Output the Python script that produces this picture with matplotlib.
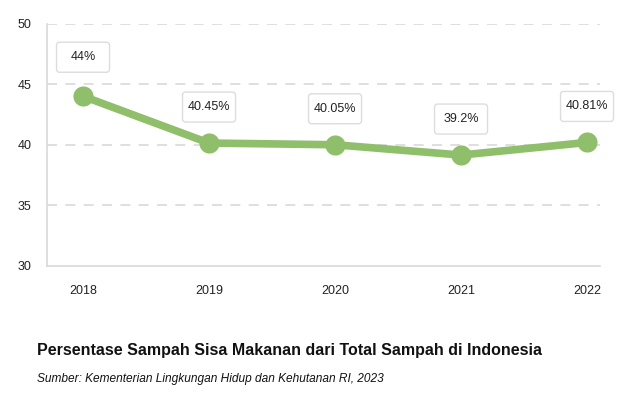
import matplotlib
matplotlib.use("Agg")
import matplotlib.pyplot as plt
from matplotlib.patches import FancyBboxPatch

years = ["2018", "2019", "2020", "2021", "2022"]
values = [44.0, 40.14, 40.0, 39.15, 40.19]
labels = ["44%", "40.45%", "40.05%", "39.2%", "40.81%"]
yticks = [30, 35, 40, 45, 50]

title = "Persentase Sampah Sisa Makanan dari Total Sampah di Indonesia"
source = "Sumber: Kementerian Lingkungan Hidup dan Kehutanan RI, 2023"

GREEN = "#8fbf6b"
GRID = "#d9d9d9"
FONT = "Liberation Sans"

fig = plt.figure(figsize=(6.28, 4.0), dpi=100)
ax = fig.add_axes([47/628, 1-266/400, (600-47)/628, (266-23.5)/400])

x = list(range(len(years)))
ax.plot(x, values, color=GREEN, lw=5.5, solid_capstyle="round", zorder=3)
ax.scatter(x, values, s=14.5**2, color=GREEN, zorder=4, linewidths=0)

ax.set_ylim(30, 50)
ax.set_xlim(-0.286, 4.103)
ax.set_yticks(yticks)
ax.set_xticks(x)
ax.set_xticklabels(years)
ax.tick_params(length=0, labelsize=9, colors="#222222")
ax.tick_params(axis="y", pad=11)
ax.tick_params(axis="x", pad=14)
for lab in ax.get_xticklabels() + ax.get_yticklabels():
    lab.set_fontfamily(FONT)

for s in ["top", "right"]:
    ax.spines[s].set_visible(False)
for s in ["left", "bottom"]:
    ax.spines[s].set_color(GRID)
    ax.spines[s].set_linewidth(1.2)

for t in yticks[1:]:
    ax.axhline(t, color=GRID, lw=1.2, dashes=(6, 5), zorder=1)

fig.canvas.draw()
W, H = 53, 30
for i, (v, lab) in enumerate(zip(values, labels)):
    px, py = ax.transData.transform((i, v))
    cy = py + (39 if i == 0 else 36)
    box = FancyBboxPatch((px - W/2, cy - H/2), W, H,
                         boxstyle="round,pad=0,rounding_size=3",
                         transform=None, facecolor="white",
                         edgecolor="#dddddd", lw=1.0, zorder=5)
    fig.patches.append(box)
    fig.text(px/628, cy/400, lab, ha="center", va="center",
             fontsize=9, family=FONT, color="#222222", zorder=6)

fig.text(37/628, 1-350/400, title, ha="left", va="center",
         fontsize=11.5, fontweight="bold", family=FONT, color="#111111")
fig.text(37/628, 1-379/400, source, ha="left", va="center",
         fontsize=8.6, style="italic", family=FONT, color="#111111")

fig.savefig("out.png", dpi=100)
